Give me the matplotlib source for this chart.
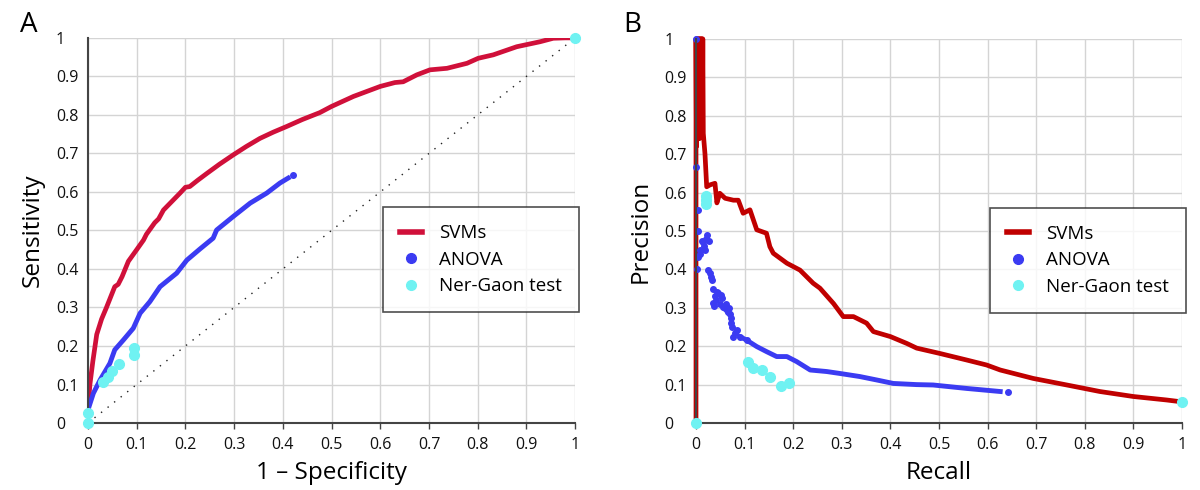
import numpy as np
import matplotlib
matplotlib.use("Agg")
from matplotlib import pyplot as plt
from matplotlib.lines import Line2D

plt.rcParams['font.family'] = ['Open Sans', 'DejaVu Sans']

# ---- panel A: ROC ----
svm_roc_x = [0.0, 0.004, 0.01, 0.018, 0.028, 0.038, 0.055, 0.062, 0.07, 0.083, 0.1, 0.114, 0.12,
             0.137, 0.145, 0.155, 0.172, 0.189, 0.2, 0.209, 0.225, 0.244, 0.27, 0.298, 0.325,
             0.353, 0.38, 0.408, 0.44, 0.476, 0.5, 0.545, 0.6, 0.63, 0.647, 0.675, 0.702, 0.737,
             0.778, 0.801, 0.832, 0.88, 0.928, 0.955, 0.98, 1.0]
svm_roc_y = [0.034, 0.1, 0.16, 0.23, 0.27, 0.3, 0.354, 0.36, 0.38, 0.42, 0.45, 0.475, 0.49,
             0.52, 0.53, 0.553, 0.575, 0.597, 0.612, 0.614, 0.63, 0.648, 0.672, 0.696, 0.718,
             0.739, 0.755, 0.77, 0.788, 0.806, 0.822, 0.848, 0.874, 0.884, 0.886, 0.904, 0.917,
             0.921, 0.934, 0.947, 0.956, 0.977, 0.99, 0.999, 1.0, 1.0]

anova_roc_x = [0.0, 0.011, 0.025, 0.045, 0.055, 0.073, 0.093, 0.107, 0.127, 0.148, 0.182, 0.203,
               0.23, 0.257, 0.264, 0.298, 0.333, 0.367, 0.394, 0.411]
anova_roc_y = [0.034, 0.077, 0.112, 0.155, 0.19, 0.216, 0.246, 0.285, 0.315, 0.354, 0.389, 0.423,
               0.452, 0.48, 0.501, 0.536, 0.571, 0.597, 0.623, 0.636]
anova_roc_end = (0.42, 0.644)

ng_roc_x = [0.0, 0.0, 0.031, 0.042, 0.05, 0.064, 0.094, 0.094, 1.0]
ng_roc_y = [0.0, 0.025, 0.107, 0.12, 0.136, 0.153, 0.177, 0.194, 1.0]

# ---- panel B: precision / recall ----
svm_pr_x = [0.0, 0.0, 0.001, 0.002, 0.003, 0.004, 0.005, 0.006, 0.007, 0.008, 0.009, 0.010,
            0.011, 0.012, 0.013, 0.014, 0.015, 0.0185, 0.022, 0.029, 0.039, 0.043, 0.049, 0.06,
            0.077, 0.087, 0.097, 0.111, 0.125, 0.145, 0.152, 0.159, 0.187, 0.214, 0.241, 0.255,
            0.283, 0.303, 0.324, 0.351, 0.365, 0.4, 0.434, 0.454, 0.502, 0.557, 0.598, 0.626,
            0.694, 0.763, 0.831, 0.9, 0.968, 1.0]
svm_pr_y = [0.0, 1.0, 0.72, 1.0, 0.74, 1.0, 0.75, 1.0, 0.74, 1.0, 0.76, 1.0,
            0.76, 1.0, 0.78, 1.0, 0.754, 0.70, 0.615, 0.62, 0.624, 0.573, 0.598, 0.585,
            0.58, 0.58, 0.546, 0.555, 0.503, 0.494, 0.459, 0.442, 0.416, 0.398, 0.364, 0.351,
            0.311, 0.277, 0.277, 0.26, 0.238, 0.225, 0.207, 0.195, 0.181, 0.164, 0.151, 0.138,
            0.116, 0.099, 0.082, 0.069, 0.06, 0.055]

anova_pr_x = [0.0, 0.0, 0.005, 0.004, 0.012, 0.021, 0.005, 0.002, 0.009, 0.016, 0.026, 0.025,
              0.029, 0.032, 0.036, 0.039, 0.046, 0.052, 0.056, 0.063, 0.07, 0.073, 0.077, 0.084,
              0.09, 0.104, 0.125, 0.145, 0.166, 0.187, 0.207, 0.235, 0.269, 0.296, 0.337, 0.372,
              0.406, 0.454, 0.488, 0.557, 0.626]
anova_pr_y = [1.0, 0.667, 0.555, 0.5, 0.474, 0.48, 0.433, 0.40, 0.45, 0.46, 0.475, 0.398,
              0.39, 0.372, 0.312, 0.33, 0.338, 0.333, 0.303, 0.295, 0.285, 0.273, 0.225, 0.242,
              0.225, 0.216, 0.199, 0.186, 0.173, 0.173, 0.16, 0.138, 0.134, 0.129, 0.121, 0.112,
              0.103, 0.10, 0.099, 0.09, 0.082]
# extra scattered dots in the dense low-recall part
anova_pr_extra_x = [0.008, 0.014, 0.018, 0.023, 0.03, 0.034, 0.038, 0.042, 0.044, 0.049, 0.054,
                    0.059, 0.061, 0.066, 0.068, 0.072, 0.075, 0.08]
anova_pr_extra_y = [0.44, 0.47, 0.45, 0.49, 0.38, 0.35, 0.305, 0.32, 0.34, 0.31, 0.325, 0.3,
                    0.31, 0.29, 0.3, 0.26, 0.25, 0.235]
anova_pr_end = (0.641, 0.082)

ng_pr_x = [0.0, 0.0206, 0.0206, 0.0206, 0.106, 0.118, 0.135, 0.152, 0.174, 0.191, 1.0]
ng_pr_y = [0.0, 0.57, 0.58, 0.59, 0.16, 0.144, 0.138, 0.121, 0.096, 0.103, 0.055]

ticks = np.arange(0, 11) / 10
tick_labels = ["0", "0.1", "0.2", "0.3", "0.4", "0.5", "0.6", "0.7", "0.8", "0.9", "1"]

BLUE = "#3b3bf2"
CYAN = "#6ff2f2"


def style_axes(ax, xlabel, ylabel):
    ax.set_xlim(0, 1)
    ax.set_ylim(0, 1)
    ax.set_xticks(ticks)
    ax.set_yticks(ticks)
    ax.set_xticklabels(tick_labels, fontsize=11.5, color="#111111")
    ax.set_yticklabels(tick_labels, fontsize=11.5, color="#111111", ha="left")
    ax.tick_params(axis="x", length=4, width=1, color="#444444", pad=6)
    ax.tick_params(axis="y", length=0, pad=23)
    ax.grid(True, color="#d4d4d4", linewidth=1)
    ax.set_axisbelow(True)
    for s in ["top", "right"]:
        ax.spines[s].set_visible(False)
    for s in ["left", "bottom"]:
        ax.spines[s].set_color("#444444")
        ax.spines[s].set_linewidth(1.5)
    ax.set_xlabel(xlabel, fontsize=17.5, labelpad=6)
    ax.set_ylabel(ylabel, fontsize=17.5, labelpad=8)


def add_legend(ax, red):
    handles = [Line2D([], [], color=red, lw=4),
               Line2D([], [], color=BLUE, marker="o", ls="", markersize=7,
                      markerfacecolor=BLUE),
               Line2D([], [], color=CYAN, marker="o", ls="", markersize=7)]
    leg = ax.legend(handles, ["SVMs", "ANOVA", "Ner-Gaon test"], loc="upper left",
                    bbox_to_anchor=(0.605, 0.56), fontsize=13.5, frameon=True, fancybox=False,
                    edgecolor="#222222", handlelength=1.2, handletextpad=0.9,
                    borderpad=0.9, labelspacing=0.45, borderaxespad=0)
    leg.get_frame().set_linewidth(1.2)


fig = plt.figure(figsize=(12, 4.9), dpi=100)
axA = fig.add_axes([0.0733, 0.1367, 0.406, 0.786])
axB = fig.add_axes([0.58, 0.1367, 0.405, 0.784])

# panel A
axA.plot([0, 1], [0, 1], ls=(0, (1, 5)), color="#222222", lw=1)
axA.plot(svm_roc_x, svm_roc_y, color="#d0103a", lw=3.4, solid_joinstyle="round")
axA.plot(anova_roc_x, anova_roc_y, color=BLUE, lw=3.5)
axA.plot(*anova_roc_end, "o", color=BLUE, markersize=4)
axA.plot(ng_roc_x, ng_roc_y, "o", color=CYAN, markersize=7, clip_on=False, zorder=5)
style_axes(axA, "1 \u2013 Specificity", "Sensitivity")
add_legend(axA, "#d0103a")

# panel B
axB.plot(svm_pr_x, svm_pr_y, color="#c00000", lw=3.4, clip_on=False)
axB.plot(anova_pr_x[:26], anova_pr_y[:26], "o", color=BLUE, markersize=4, clip_on=False)
axB.plot(anova_pr_extra_x, anova_pr_extra_y, "o", color=BLUE, markersize=4)
axB.plot(anova_pr_x[24:], anova_pr_y[24:], color=BLUE, lw=3.5)
axB.plot(*anova_pr_end, "o", color=BLUE, markersize=4)
axB.plot(ng_pr_x, ng_pr_y, "o", color=CYAN, markersize=7, clip_on=False, zorder=5)
style_axes(axB, "Recall", "Precision")
add_legend(axB, "#c00000")

fig.text(0.024, 0.95, "A", fontsize=20, va="center", ha="center")
fig.text(0.527, 0.95, "B", fontsize=20, va="center", ha="center")

fig.savefig("out.png", dpi=100)
